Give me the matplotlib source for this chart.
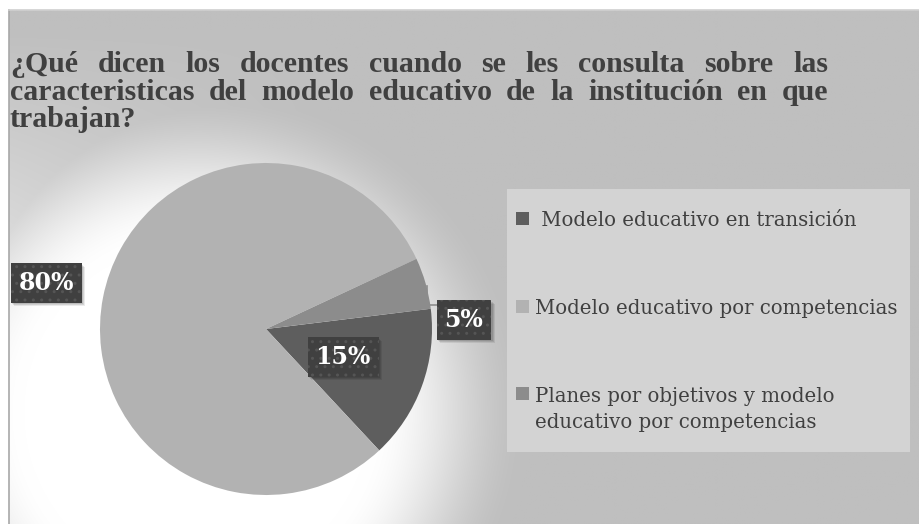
import matplotlib.pyplot as plt
from matplotlib.patches import Rectangle
from matplotlib.transforms import IdentityTransform
import numpy as np

# Datos
etiquetas = [' Modelo educativo en transición',
             'Modelo educativo por competencias',
             'Planes por objetivos y modelo\neducativo por competencias']
porcentajes = [15, 80, 5]
colores = ['#5e5e5e', '#b2b2b2', '#8c8c8c']

titulo = ['¿Qué dicen los docentes cuando se les consulta sobre las',
          'caracteristicas del modelo educativo de la institución en que',
          'trabajan?']

W, H = 919, 524
fig = plt.figure(figsize=(W / 100, H / 100), dpi=100)
fig.patch.set_facecolor('white')

# Fondo: gris con un halo blanco desplazado abajo a la izquierda de la torta
bg = fig.add_axes([0, 0, 1, 1])
bg.set_xlim(0, W)
bg.set_ylim(H, 0)
bg.axis('off')
yy, xx = np.mgrid[0:H, 0:W]
d = np.hypot(xx - 190, yy - 410)
t = np.clip((d - 175) / 160, 0, 1)
t = t * t * (3 - 2 * t)
halo = 1 - t
izq = 0.4 * np.clip(1 - xx / 320, 0, 1) * np.clip((yy - 20) / 200, 0, 1)
val = 191 + 64 * np.maximum(halo, izq)
val = np.clip(val, 0, 255) / 255
img = np.dstack([val, val, val])
bg.imshow(img, extent=(9, W, H, 10), aspect='auto', zorder=0, interpolation='bilinear')
bg.plot([9, 9], [10, H], color='#a8a8a8', lw=1.2, zorder=1)
bg.plot([9, W], [10, 10], color='#d0d0d0', lw=1.2, zorder=1)

# Título justificado
renderer = fig.canvas.get_renderer()
x0, x1 = 10, 828
baselines = [72, 100, 127]
tprops = dict(family='Liberation Serif', weight='bold', size=21.5, color='#404040', va='baseline')
for i, linea in enumerate(titulo):
    palabras = linea.split()
    textos = [bg.text(0, baselines[i], p, **tprops) for p in palabras]
    anchos = [tx.get_window_extent(renderer).width for tx in textos]
    if i < len(titulo) - 1:
        hueco = (x1 - x0 - sum(anchos)) / (len(palabras) - 1)
    else:
        hueco = 7
    x = x0
    for tx, w in zip(textos, anchos):
        tx.set_x(x)
        x += w + hueco

# Torta
cx, cy, r = 266, 329, 166
ax = fig.add_axes([(cx - r) / W, (H - cy - r) / H, 2 * r / W, 2 * r / H])
wedges, _, autotexts = ax.pie(porcentajes, colors=colores, startangle=7,
                              counterclock=False, autopct='%1.0f%%',
                              wedgeprops=dict(linewidth=0))
ax.set_xlim(-1, 1)
ax.set_ylim(-1, 1)
ax.set_aspect('equal')
ax.axis('off')

# Etiquetas de porcentaje en cajas oscuras
pos_etiquetas = [(0.464, -0.169), (-1.325, 0.277), (1.193, 0.054)]
for txt, (px, py) in zip(autotexts, pos_etiquetas):
    txt.set_position((px, py))
    txt.set_clip_on(False)
    txt.set(family='DejaVu Serif', weight='bold', size=17, color='white',
            ha='center', va='center', zorder=5)
    txt.set_bbox(dict(boxstyle='square,pad=0.33', fc='#404040', ec='#555555',
                      lw=0, hatch='..'))

# sombra suave de las cajas
fig.canvas.draw()
for txt in autotexts:
    bb = txt.get_bbox_patch().get_window_extent(renderer)
    for k, a in enumerate([0.10, 0.10, 0.08]):
        off = 1.5 + k
        ax.add_patch(Rectangle((bb.x0 + off, bb.y0 - off), bb.width, bb.height,
                               transform=IdentityTransform(), fc='black',
                               alpha=a, lw=0, zorder=4, clip_on=False))

# línea guía del 5%
ax.plot([0.97, 0.97, 1.04], [0.26, 0.145, 0.145], color='#8c8c8c', lw=1.2,
        clip_on=False, zorder=3)

# Leyenda
bg.add_patch(Rectangle((507, 189), 403, 263, fc='#d3d3d3', ec='none', zorder=2))
ley_y = [218.5, 306.5, 393.5]
for etq, col, yc in zip(etiquetas, colores, ley_y):
    bg.add_patch(Rectangle((516, yc - 6.5), 13, 13, fc=col, ec='none', zorder=3))
    for k, ln in enumerate(etq.split('\n')):
        bg.text(535, yc + 8 + 27 * k, ln,
                family='DejaVu Serif', size=14.2, color='#404040',
                va='baseline', ha='left', zorder=4)

fig.savefig('out.png', dpi=100)
